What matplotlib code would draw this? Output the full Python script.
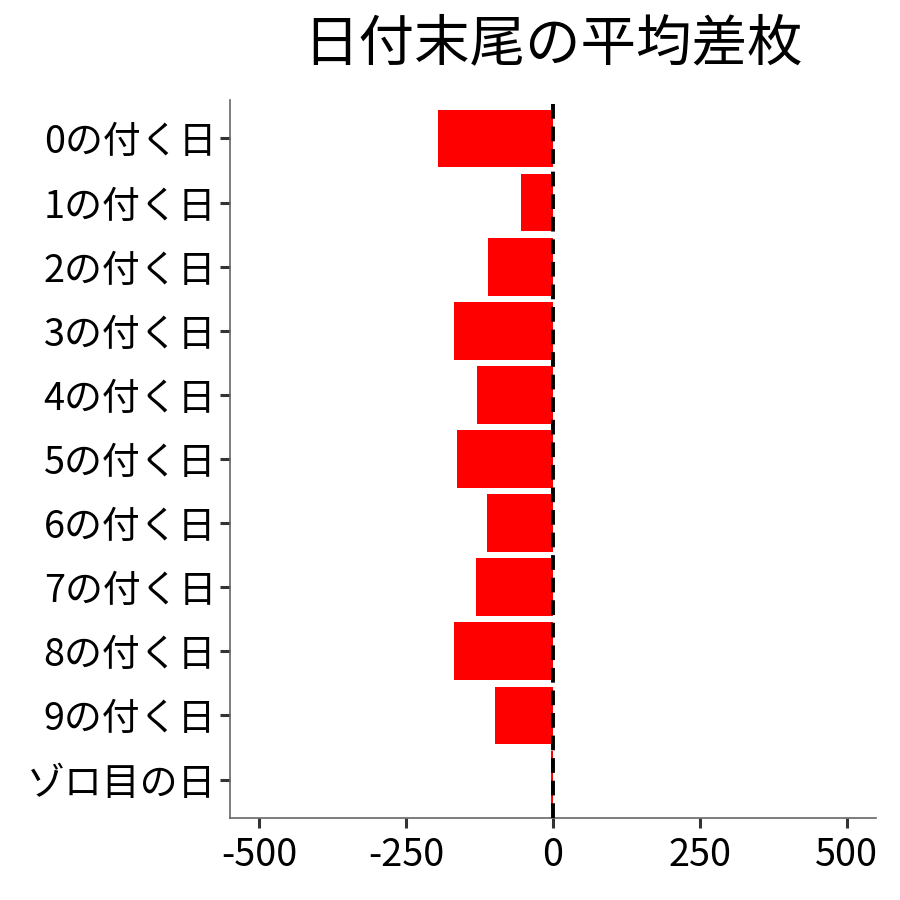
import matplotlib
matplotlib.use("Agg")
import matplotlib.pyplot as plt

plt.rcParams['font.family'] = ['Noto Sans CJK JP', 'DejaVu Sans']

categories = ["0の付く日", "1の付く日", "2の付く日", "3の付く日", "4の付く日",
              "5の付く日", "6の付く日", "7の付く日", "8の付く日", "9の付く日", "ゾロ目の日"]
values = [-195, -54, -110, -168, -129, -163, -112, -131, -169, -98, -4]
xticks = [-500, -250, 0, 250, 500]
title = "日付末尾の平均差枚"

fig = plt.figure(figsize=(9, 9), dpi=100)
ax = fig.add_axes([0.2556, 0.0911, 0.7177, 0.7978])

ypos = list(range(len(categories)))
ax.barh(ypos, values, height=0.9, color="#FF0000", zorder=2)
ax.axvline(0, color="black", lw=2.8, linestyle=(0, (3.8, 2.0)), zorder=3)

ax.set_ylim(len(categories) - 0.4, -0.6)
ax.set_xlim(-550, 550)
ax.set_yticks(ypos)
ax.set_yticklabels(categories)
ax.set_xticks(xticks)
ax.set_xticklabels([str(t) for t in xticks])

for s in ["top", "right"]:
    ax.spines[s].set_visible(False)
for s in ["left", "bottom"]:
    ax.spines[s].set_color("#666666")
    ax.spines[s].set_linewidth(1.2)
ax.tick_params(axis="both", colors="#333333", length=7, width=2.2, labelsize=27.3,
               labelcolor="black", pad=3)
ax.tick_params(axis="x", pad=6)

fig.text(0.6145, 0.951, title, ha="center", va="center", fontsize=40)

fig.savefig("out.png", dpi=100, facecolor="white")
